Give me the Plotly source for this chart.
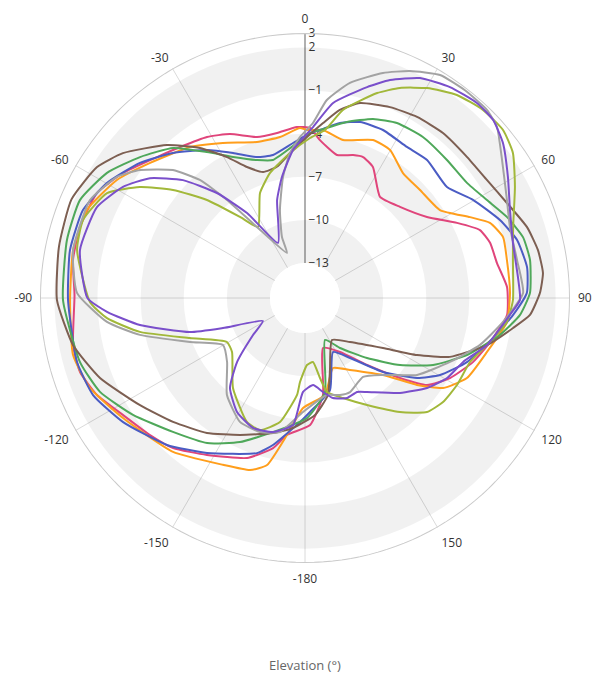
import plotly.graph_objects as go

# ---------------- data (elevation angle in degrees, gain in dB) ----------------
pink_theta = [-172.5, -168, -160.1, -148, -138.7, -131.5, -122.7, -115, -108.2, -101.5, -89.3, -80.7, -72.5, -63.2,
              -55.5, -46.4, -39.6, -31.3, -24.6, -16.6, -9.6, -2.7, 1.7, 5.4, 12.6, 18.6, 22.4, 27.4, 36.6, 46.2, 56.4,
              63.7, 68.8, 73.4, 79.7, 86.9, 94.8, 103.4, 110.9, 118.9, 125.5, 130.1, 137.2, 147, 160.2, 169.5, 177.7]
pink_gain = [-5.82, -4.76, -3.6, -2.56, -1.54, -1.04, -0.38, 0.53, 1.04, 1.03, 0.6, 0.92, 0.98, 0.77,
             -0.08, -1.22, -1.8, -2.32, -2.89, -3.75, -3.79, -3.53, -3.6, -4.4, -5.24, -4.94, -4.83, -5.17, -6.68, -6.28, -5.25,
             -3.64, -2.38, -2.0, -1.86, -1.36, -1.33, -2.2, -2.93, -3.91, -5.01, -6.8, -9.08, -10.96, -11.74, -8.57, -6.59]

orange_theta = [-179, -172.5, -167.2, -162.3, -153.8, -139.4, -123.4, -112.7, -103.8, -90.5, -78.3, -68, -57.9, -48.9,
                -37.3, -27.9, -17.1, -8.8, -1.7, 0.7, 6.1, 13.5, 23.3, 29.9, 38.1, 46.8, 56.9, 63.9, 67.9, 72.9, 79.3,
                88.6, 96.8, 106.5, 116.3, 123.1, 127.8, 134.6, 148, 158.2, 168.3]
orange_gain = [-7.78, -5.82, -3.52, -2.87, -2.5, -1.33, -0.27, 0.78, 1.18, 0.91, 1.04, 0.92, 0.01, -1.14,
               -2.23, -3.23, -4.08, -4.1, -3.6, -3.75, -3.68, -4.13, -3.47, -3.56, -4.39, -4.46, -4.23, -2.65, -1.55, -1.02, -1.14,
               -1.17, -1.29, -2.23, -2.87, -3.97, -5.57, -7.81, -9.53, -10.19, -8.55]

blue_theta = [-177.7, -167.7, -162.8, -147.7, -136.8, -124.3, -114.6, -105.7, -90.5, -78.5, -68.4, -59.9, -50.7, -42.3,
              -33.5, -26.4, -18.8, -12.6, -4.4, 1.7, 5.1, 11.3, 17.4, 24.9, 34, 41.5, 52, 59.7, 68.2, 74.7, 82.1, 88.7,
              94.7, 102, 111.6, 119.7, 125.5, 133.5, 143.1, 152.6, 164.8, 177.5]
blue_gain = [-6.8, -4.97, -4.14, -2.68, -1.41, -0.12, 0.78, 1.04, 1.05, 1.25, 1.18, 0.5, -0.6, -1.79,
             -3.09, -4.17, -5.08, -5.24, -4.62, -3.96, -3.7, -3.02, -2.61, -2.55, -2.76, -2.62, -2.9, -1.9, -0.83, -0.14, 0.16, 0.0,
             -0.92, -2.06, -3.32, -4.62, -5.86, -7.96, -10.22, -11.2, -8.8, -7.5]

green_theta = [-166.6, -155.7, -146, -135.4, -124.2, -114.6, -105.9, -90.5, -76.3, -66.5, -57.7, -49.5, -41.3, -33.9,
               -27, -19.2, -13.1, -3, 1.7, 5.1, 13.4, 20.8, 27.7, 36.2, 45.8, 54.6, 61.7, 68.1, 74.4, 80.4, 88.7, 94.5,
               100.7, 109.4, 117.6, 125.2, 134.1, 145, 154.5, 168, 179]
green_gain = [-5.85, -4.44, -3.26, -2.35, -0.97, 0.25, 0.84, 1.4, 1.61, 1.64, 0.86, -0.34, -1.54, -3.2,
              -4.42, -5.27, -5.58, -4.64, -3.96, -3.7, -2.85, -2.11, -1.68, -1.55, -1.66, -1.61, -1.06, -0.3, 0.31, 0.44, 0.22, -0.43,
              -1.63, -3.49, -5.38, -7.34, -9.43, -11.19, -12.2, -8.75, -7.09]

brown_theta = [-174.7, -166.7, -154.6, -144, -133.2, -123, -111.3, -101.5, -90.5, -78.2, -67.1, -57.8, -51.5, -42.05,
               -35, -28.95, -23.9, -18.4, -12.1, -5.9, 0.7, 5.9, 10.5, 15.75, 24, 31.75, 39.9, 49, 57, 64.8, 72.3, 78.4,
               84, 88.8, 94.3, 98.2, 104.5, 112.1, 117, 122.7, 134.4, 147.3, 160.9, 166.7, 175.1]
brown_gain = [-6.35, -5.78, -4.89, -3.83, -2.84, -1.75, -0.13, 1.03, 1.82, 2.05, 2.2, 1.66, 0.75, -1.1,
              -2.7, -4.23, -5.47, -6.2, -6.1, -5.3, -4.23, -3.2, -2.13, -1.34, -0.9, -0.62, -0.47, -0.49, -0.35, 0.09, 0.78, 1.11,
              1.21, 0.91, 0.26, -0.81, -2.36, -4.55, -6.69, -8.99, -11.06, -11.96, -10.13, -8.5, -7.27]

purple_theta = [-178.8, -174.6, -166.6, -158.2, -149.2, -140.2, -133.3, -125.4, -118.7, -110.1, -106.5, -99.3, -94, -90,
                -78, -66.4, -58.6, -52.3, -46, -40, -34.3, -26.1, -15.9, -10.8, -4.6, 2.7, 8.2, 16.4, 21.3, 27.6, 34.5,
                41.4, 46.6, 51.9, 59.2, 66.8, 75.2, 84.4, 90.5, 94.7, 104.5, 112, 119.4, 126.4, 135, 146.6, 151, 157.2,
                164.4, 169.2, 174.7]
purple_gain = [-8.9, -6.56, -5.85, -5.7, -6.2, -7.28, -8.94, -11.0, -12.1, -9.36, -7.09, -3.8, -1.63, -0.3,
               0.57, 0.36, -0.6, -1.8, -3.63, -5.9, -8.28, -11.17, -8.35, -6.87, -5.1, -3.53, -1.73, -0.14, 0.84, 1.83, 2.37,
               2.65, 2.58, 2.06, 1.0, 0.08, -0.47, -0.55, -0.48, -1.13, -2.36, -3.57, -4.09, -4.89, -6.09, -7.6, -7.96, -7.89,
               -8.21, -8.78, -9.35]

gray_theta = [-179, -169.4, -161.4, -152.3, -141.2, -129.4, -119.8, -110.9, -102.6, -96.9, -88.7, -78.3, -65.5, -57.2,
              -52.2, -45.9, -41.7, -38.5, -34.1, -21.8, -20.7, -15.9, -10.3, -5.9, -1.8, 2.6, 6.3, 11.8, 19.1, 24.8, 31.2,
              37.6, 44.1, 48.3, 55, 64.1, 70.9, 79.8, 88.7, 96.9, 105, 113.8, 124.5, 134.6, 143.7, 154.4, 160.2, 167.2]
gray_gain = [-7.5, -5.95, -5.6, -5.7, -6.77, -8.42, -8.86, -6.87, -3.67, -1.56, 0.43, 1.04, 1.0, 0.12,
             -0.91, -2.64, -4.44, -6.72, -9.47, -12.06, -10.9, -9.07, -6.88, -5.29, -4.23, -3.25, -1.58, -0.15, 1.13, 1.96, 2.7,
             2.8, 2.77, 2.45, 1.3, 0.18, -0.35, -0.45, -0.26, -1.56, -2.83, -4.41, -5.98, -7.81, -8.62, -8.18, -8.26, -8.51]

olive_theta = [-176.6, -175.3, -168.6, -161.2, -154.9, -141.3, -126.5, -119.4, -109.2, -101.6, -95.8, -91.1, -78.1, -70.6,
               -62.1, -56.1, -50.7, -45, -38.7, -33.5, -23.2, -15.6, -5.9, 1.8, 6.8, 11.4, 19.4, 24.3, 30.2, 36.8, 43.4,
               49.7, 55.1, 62.1, 71.2, 79.6, 90.6, 96.8, 104.5, 111.2, 119.8, 127, 133.1, 140.2, 149.9, 159.2, 166.8,
               169.4, 172.9, 178.3]
olive_gain = [-9.58, -8.67, -6.63, -5.73, -5.91, -7.42, -9.12, -9.2, -6.96, -3.71, -1.59, -0.48, 0.77, 0.93,
              0.15, -1.6, -3.57, -5.79, -8.21, -9.51, -7.49, -6.4, -5.29, -4.3, -3.66, -2.09, -0.32, 0.6, 1.46, 2.2, 2.58,
              2.63, 2.2, 1.09, -0.14, -0.73, -0.97, -1.29, -2.36, -3.12, -3.25, -3.41, -3.82, -5.11, -6.83, -7.99, -8.72,
              -9.77, -10.95, -10.77]

series = [
    ("pink", pink_theta, pink_gain, "#E0457B"),
    ("orange", orange_theta, orange_gain, "#FF9E1C"),
    ("blue", blue_theta, blue_gain, "#4B5CC4"),
    ("green", green_theta, green_gain, "#4FA85A"),
    ("brown", brown_theta, brown_gain, "#7D5F52"),
    ("olive", olive_theta, olive_gain, "#A2B83A"),
    ("gray", gray_theta, gray_gain, "#A3A3A3"),
    ("purple", purple_theta, purple_gain, "#7A4FCB"),
]

radial_ticks = [-13, -10, -7, -4, -1, 2, 3]
angle_ticks = [0, 30, 60, 90, 120, 150, 180, 210, 240, 270, 300, 330]
angle_labels = ["0", "30", "60", "90", "120", "150", "-180", "-150", "-120", "-90", "-60", "-30"]
band_bases = [-13, -7, -1]
band_width = 3
r_max = 3

FONT = "Segoe UI, Open Sans, sans-serif"

fig = go.Figure()

# alternating background bands
for b in band_bases:
    fig.add_trace(go.Barpolar(
        theta=[45, 135, 225, 315], width=[90, 90, 90, 90], r=[band_width] * 4, base=[b] * 4,
        marker=dict(color="rgba(0,0,0,0.055)", line=dict(width=0)),
        hoverinfo="skip", showlegend=False))

# outer rim of the plot area
ring_theta = list(range(0, 361, 2))
fig.add_trace(go.Scatterpolar(
    theta=ring_theta, r=[r_max] * len(ring_theta), mode="lines", cliponaxis=False,
    line=dict(color="#CACACA", width=2), hoverinfo="skip", showlegend=False))

for name, th, g, col in series:
    fig.add_trace(go.Scatterpolar(
        theta=th + th[:1], r=g + g[:1], mode="lines", name=name,
        line=dict(color=col, width=2, shape="spline", smoothing=0.5), showlegend=False))

fig.update_layout(
    width=592, height=677,
    margin=dict(l=0, r=0, t=0, b=0),
    paper_bgcolor="white",
    font=dict(family=FONT, size=12, color="#333333"),
    showlegend=False,
    polar=dict(
        domain=dict(x=[40 / 592, 570 / 592], y=[1 - 563 / 677, 1 - 33 / 677]),
        hole=35 / 265,
        bgcolor="white",
        angularaxis=dict(
            rotation=90, direction="clockwise", tickmode="array",
            tickvals=angle_ticks, ticktext=angle_labels,
            showline=False,
            showgrid=True, gridcolor="#DADADA", gridwidth=1,
            ticks="outside", ticklen=5, tickcolor="rgba(0,0,0,0)", layer="below traces",
            tickfont=dict(family=FONT, size=12, color="#333333")),
        radialaxis=dict(
            range=[-13, r_max], tickmode="array", tickvals=radial_ticks,
            angle=90, tickangle=90, side="clockwise",
            showline=True, linecolor="#B0B0B0", linewidth=2,
            showgrid=False, ticks="", layer="below traces",
            tickfont=dict(family=FONT, size=12, color="#333333")),
    ),
    annotations=[dict(text="Elevation (°)", x=305 / 592, y=1 - 665 / 677, xref="paper", yref="paper",
                      xanchor="center", yanchor="middle",
                      showarrow=False, font=dict(family=FONT, size=13, color="#666666"))],
)

fig.write_html("out.html", config={"displayModeBar": False},
               post_script="document.body.style.margin='0';document.body.style.overflow='hidden';")
